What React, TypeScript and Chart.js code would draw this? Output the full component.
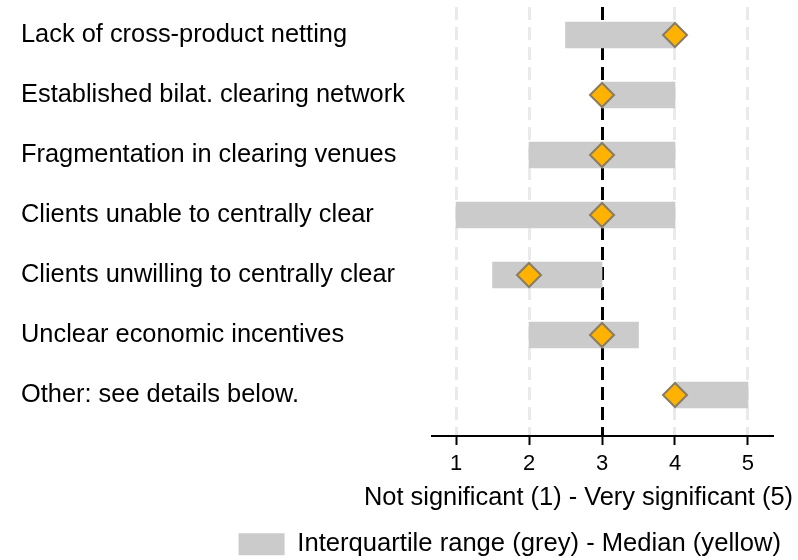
import React, { useEffect, useRef } from "react";
import { Chart, registerables } from "chart.js";

Chart.register(...registerables);

const categories = [
  "Lack of cross-product netting",
  "Established bilat. clearing network",
  "Fragmentation in clearing venues",
  "Clients unable to centrally clear",
  "Clients unwilling to centrally clear",
  "Unclear economic incentives",
  "Other: see details below.",
];
const iqrLow = [2.5, 3, 2, 1, 1.5, 2, 4];
const iqrHigh = [4, 4, 4, 4, 3, 3.5, 5];
const medians = [4, 3, 3, 3, 2, 3, 4];
const xTickValues = [1, 2, 3, 4, 5];
const referenceValue = 3;
const xAxisTitle = "Not significant (1) - Very significant (5)";
const legendLabel = "Interquartile range (grey) - Median (yellow)";

const FONT = "'Liberation Sans', Arial, Helvetica, sans-serif";

export default function App() {
  const ref = useRef<HTMLCanvasElement | null>(null);

  useEffect(() => {
    if (!ref.current) return;
    Chart.defaults.font.family = FONT;
    const chart = new Chart(ref.current, {
      type: "bar",
      data: {
        datasets: [
          {
            type: "bar",
            label: legendLabel,
            indexAxis: "y",
            data: categories.map((_, i) => ({ x: [iqrLow[i], iqrHigh[i]], y: i })),
            backgroundColor: "#cbcbcb",
            borderWidth: 0,
            barThickness: 26,
            order: 2,
          } as any,
          {
            type: "scatter",
            label: "Median",
            data: categories.map((_, i) => ({ x: medians[i], y: i })),
            pointStyle: "rectRot",
            pointRadius: 12,
            pointHoverRadius: 12,
            backgroundColor: "#ffb300",
            borderColor: "#877c64",
            borderWidth: 2,
            order: 1,
          } as any,
        ],
      },
      options: {
        animation: false,
        responsive: false,
        devicePixelRatio: 1,
        layout: { autoPadding: false, padding: { top: 7, left: 21, right: 5, bottom: -7 } } as any,
        scales: {
          x: {
            type: "linear",
            offset: false,
            beginAtZero: false,
            min: 0.671,
            max: 5.329,
            afterBuildTicks: (s: any) => {
              s.ticks = xTickValues.map((v) => ({ value: v }));
            },
            afterFit: (s: any) => {
              s.height = 46.4;
            },
            ticks: {
              color: "#000",
              font: { size: 22 },
              padding: 6,
              callback: (v: any) => String(v),
            },
            grid: {
              offset: false,
              color: (c: any) => (c.tick && c.tick.value === referenceValue ? "#000000" : "#eaeaea"),
              lineWidth: 3,
              tickLength: 9,
              tickColor: "#000",
              tickWidth: 2,
              tickBorderDash: [],
            } as any,
            border: { display: true, color: "#000", width: 2, dash: [13, 7] } as any,
          },
          y: {
            type: "linear",
            offset: false,
            beginAtZero: false,
            reverse: true,
            min: -0.467,
            max: 6.683,
            afterBuildTicks: (s: any) => {
              s.ticks = categories.map((_, i) => ({ value: i }));
            },
            afterFit: (s: any) => {
              s.width = 411;
              s.paddingTop = 0;
              s.paddingBottom = 0;
            },
            ticks: {
              color: "#000",
              font: { size: 25.4 },
              crossAlign: "far",
              callback: (v: any) => categories[v] ?? "",
            },
            grid: { display: false, drawTicks: false, offset: false },
            border: { display: false },
          },
          y2: {
            type: "linear",
            position: "right",
            display: true,
            afterFit: (s: any) => {
              s.width = 21;
              s.paddingTop = 0;
              s.paddingBottom = 0;
            },
            ticks: { display: false },
            grid: { display: false, drawTicks: false },
            border: { display: false },
          },
        } as any,
        plugins: {
          tooltip: { enabled: false },
          title: {
            display: true,
            text: xAxisTitle,
            position: "bottom",
            align: "end",
            color: "#000",
            font: { size: 25.4, weight: "normal" },
            padding: { top: 0, bottom: 6.5 },
            weight: 500,
          } as any,
          legend: {
            display: true,
            position: "bottom",
            align: "end",
            weight: 1000,
            labels: {
              color: "#000",
              font: { size: 25.6 },
              boxWidth: 46,
              boxHeight: 22,
              padding: 12,
              filter: (item: any) => item.datasetIndex === 0,
            },
          } as any,
        },
      },
    });
    return () => chart.destroy();
  }, []);

  return (
    <div style={{ position: "absolute", left: 0, top: 0, width: 798, height: 560 }}>
      <canvas ref={ref} width={798} height={560} style={{ display: "block" }} />
    </div>
  );
}
